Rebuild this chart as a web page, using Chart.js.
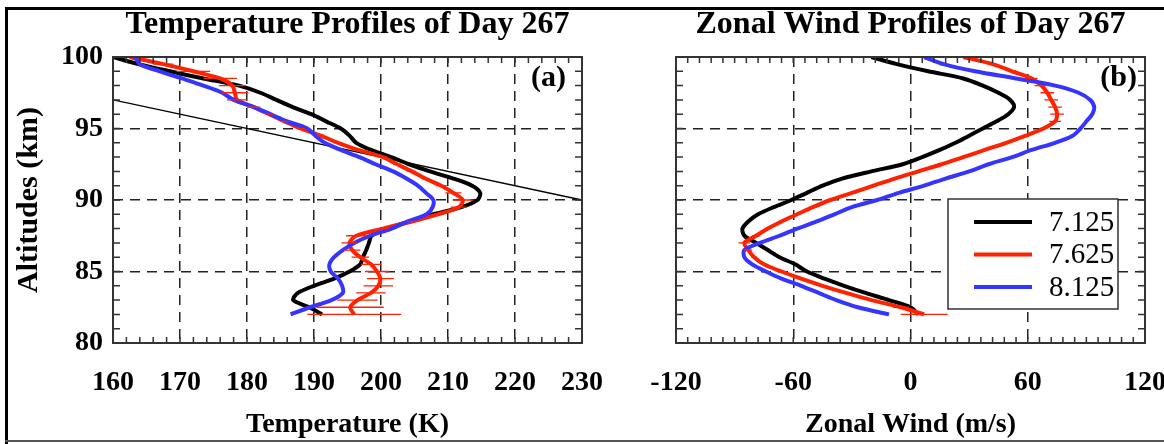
<!DOCTYPE html>
<html>
<head>
<meta charset="utf-8">
<script src="https://cdn.jsdelivr.net/npm/chart.js@4.4.1/dist/chart.umd.min.js"></script>
<style>
  body { margin: 0; background: #fff; }
  #wrap { position: relative; width: 1164px; height: 444px; overflow: hidden; background: #fff; }
  #wrap canvas { position: absolute; top: 0; }
  .edge { position: absolute; background: #000; }
</style>
</head>
<body>
<div id="wrap">
  <canvas id="windChart" width="564" height="444" style="left:600px"></canvas>
  <canvas id="tempChart" width="620" height="444" style="left:0"></canvas>
  <div class="edge" style="left:5px;top:7px;width:1159px;height:3px"></div>
  <div class="edge" style="left:5px;top:7px;width:3px;height:437px"></div>
  <div class="edge" style="left:5px;top:440px;width:1159px;height:2px;background:#555"></div>
</div>
<script>
// altitude grid of the profiles (km)
const altitudes = [82, 82.5, 83, 83.5, 84, 84.5, 85, 85.5, 86, 86.5, 87, 87.5, 88, 88.5, 89, 89.5, 90, 90.5, 91, 91.5,
  92, 92.5, 93, 93.5, 94, 94.5, 95, 95.5, 96, 96.5, 97, 97.5, 98, 98.5, 99, 99.5, 100];

// temperature (K)
const temp7125 = [191.2, 189.3, 186.9, 187.6, 190.0, 193.0, 195.3, 196.9, 197.3, 197.8, 198.2, 198.6, 200.8, 204.3, 207.8, 212.0, 214.4, 214.8, 213.6, 210.8,
  207.3, 204.2, 201.5, 198.5, 196.3, 195.3, 194.0, 191.8, 189.6, 186.8, 184.4, 182.0, 178.8, 173.5, 168.5, 163.8, 160.0];
const temp7625 = [196.0, 195.4, 196.5, 198.5, 199.6, 199.9, 199.4, 198.5, 196.9, 195.7, 195.3, 196.3, 200.3, 204.6, 208.5, 211.6, 212.2, 210.8, 209.0, 206.6,
  204.6, 202.4, 200.3, 196.6, 193.6, 191.0, 188.0, 185.6, 183.3, 181.0, 178.5, 178.2, 177.8, 176.0, 172.0, 167.5, 162.5];
const temp8125 = [186.5, 189.4, 192.6, 194.3, 194.2, 193.6, 192.5, 192.3, 193.0, 194.3, 196.0, 198.4, 201.6, 204.0, 206.8, 207.7, 207.8, 206.7, 205.5, 203.8,
  201.8, 199.2, 196.8, 194.0, 191.6, 190.2, 189.0, 186.0, 183.5, 181.0, 178.0, 176.3, 173.5, 170.3, 167.0, 164.0, 163.3];
const tempErr7625 = [7, 5, 3, 2.2, 2.2, 2, 1.8, 1.5, 1.3, 1.2, 1.2, 1.5, 0.8, 0.8, 0.8, 1.2, 1.5, 1.2, 0.8, 0.6,
  0.6, 0.6, 0.6, 0.6, 0.6, 0.6, 0.6, 0.6, 0.6, 1.0, 1.5, 2.0, 2.0, 2.5, 2.5, 1.5, 0.8];

// zonal wind (m/s)
const wind7125 = [4, 0, -11, -23, -34, -44, -53, -59, -67, -73, -79, -85, -86, -83, -78, -70, -61, -53, -45, -35,
  -20, -4, 6, 15, 23, 30, 37, 44, 50, 53, 51, 45, 37, 27, 9, -7, -20];
const wind7625 = [7, -5, -20, -33, -45, -56, -66, -75, -80, -83, -85, -79, -73, -66, -58, -50, -41, -30, -19, -8,
  4, 16, 27, 38, 49, 59, 68, 74, 75, 74, 72, 70, 67, 62, 52, 42, 27];
const wind8125 = [-11, -27, -38, -47, -56, -66, -74, -81, -85, -85, -77, -67, -58, -48, -39, -30, -17, -6, 7, 18,
  30, 40, 52, 62, 74, 83, 87, 90, 93, 94, 92, 86, 74, 54, 33, 17, 7];
const windErr7625 = [12, 4, 2, 1.5, 1.5, 1.5, 1.5, 1.5, 1.5, 2, 3, 2, 1.5, 1.5, 1.5, 1.5, 1.5, 1.5, 1.5, 1.5,
  1.5, 1.5, 1.5, 1.5, 1.5, 1.5, 2, 3, 3.5, 3.5, 3.5, 3.5, 3.5, 3, 2, 1.5, 1];

// adiabatic lapse-rate reference line
const lapseTemp = [160, 230];
const lapseAlt = [97, 90];

const seriesLabels = ['7.125', '7.625', '8.125'];
const seriesColors = ['#000000', '#ff2200', '#3535ff'];
const tempTicks = [160, 170, 180, 190, 200, 210, 220, 230];
const windTicks = [-120, -60, 0, 60, 120];
const altTicks = [80, 85, 90, 95, 100];

const serif = "'Liberation Serif', 'Times New Roman', serif";

function profile(xs, ys) {
  return xs.map((v, i) => ({ x: v, y: ys[i] }));
}

function profileSets(series, errors) {
  return series.map((vals, i) => ({
    label: seriesLabels[i],
    data: profile(vals, altitudes),
    errors: i === 1 ? errors : null,
    showLine: true,
    borderColor: seriesColors[i],
    borderWidth: 4,
    pointRadius: 0,
    tension: 0.3,
    order: 2 - i
  }));
}

// box outline + inward minor ticks on all four sides
const boxTicks = {
  id: 'boxTicks',
  afterDatasetsDraw(chart, args, opts) {
    const { ctx, chartArea: a, scales: { x, y } } = chart;
    ctx.save();
    ctx.strokeStyle = '#333';
    ctx.lineWidth = 1.5;
    ctx.beginPath();
    for (let v = x.min; v <= x.max + 1e-6; v += opts.xStep) {
      const px = x.getPixelForValue(v);
      ctx.moveTo(px, a.bottom); ctx.lineTo(px, a.bottom - opts.len);
      ctx.moveTo(px, a.top); ctx.lineTo(px, a.top + opts.len);
    }
    for (let v = y.min; v <= y.max + 1e-6; v += opts.yStep) {
      const py = y.getPixelForValue(v);
      ctx.moveTo(a.left, py); ctx.lineTo(a.left + opts.len + 1, py);
      ctx.moveTo(a.right, py); ctx.lineTo(a.right - opts.len - 1, py);
    }
    ctx.stroke();
    ctx.lineWidth = 2;
    ctx.strokeRect(a.left, a.top, a.right - a.left, a.bottom - a.top);
    ctx.restore();
  }
};

// horizontal error bars for datasets carrying an errors array
const errorBars = {
  id: 'errorBars',
  afterDatasetsDraw(chart) {
    const { ctx, chartArea: a, scales: { x, y } } = chart;
    ctx.save();
    ctx.beginPath();
    ctx.rect(a.left, a.top, a.right - a.left, a.bottom - a.top);
    ctx.clip();
    chart.data.datasets.forEach(ds => {
      if (!ds.errors) return;
      ctx.strokeStyle = ds.borderColor;
      ctx.lineWidth = 1.3;
      ctx.beginPath();
      ds.data.forEach((p, i) => {
        const e = ds.errors[i];
        const py = y.getPixelForValue(p.y);
        ctx.moveTo(x.getPixelForValue(p.x - e), py);
        ctx.lineTo(x.getPixelForValue(p.x + e), py);
      });
      ctx.stroke();
    });
    ctx.restore();
  }
};

const panelLabel = {
  id: 'panelLabel',
  afterDraw(chart, args, opts) {
    const { ctx, chartArea: a } = chart;
    ctx.save();
    ctx.font = 'bold 30px ' + serif;
    ctx.fillStyle = '#000';
    ctx.textAlign = 'right';
    ctx.textBaseline = 'middle';
    ctx.fillText(opts.text, a.right - opts.right, a.top + 21);
    ctx.restore();
  }
};

const boxLegend = {
  id: 'boxLegend',
  afterDraw(chart, args, opts) {
    if (!opts.show) return;
    const { ctx, chartArea: a } = chart;
    const right = a.right - 27, bottom = a.bottom - 34;
    const left = right - 170, top = bottom - 110;
    ctx.save();
    ctx.fillStyle = '#fff';
    ctx.fillRect(left, top, right - left, bottom - top);
    ctx.strokeStyle = '#333';
    ctx.lineWidth = 1.5;
    ctx.strokeRect(left, top, right - left, bottom - top);
    ctx.font = '29px ' + serif;
    ctx.textBaseline = 'middle';
    ctx.fillStyle = '#000';
    seriesLabels.forEach((lab, i) => {
      const ds = chart.data.datasets.find(d => d.label === lab);
      const yy = top + 23 + i * 32.5;
      ctx.strokeStyle = ds.borderColor;
      ctx.lineWidth = 4;
      ctx.beginPath();
      ctx.moveTo(left + 26, yy);
      ctx.lineTo(left + 84, yy);
      ctx.stroke();
      ctx.fillText(lab, left + 101, yy + 1);
    });
    ctx.restore();
  }
};

function xAxis(min, max, ticks, title) {
  return {
    type: 'linear', position: 'bottom', min: min, max: max,
    afterBuildTicks: s => { s.ticks = ticks.map(v => ({ value: v })); },
    afterFit: s => { s.height = 101; s.paddingLeft = 0; s.paddingRight = 0; },
    grid: { color: '#222', lineWidth: 1.5, drawTicks: false },
    border: { display: false, dash: [10, 7] },
    ticks: { color: '#000', font: { family: serif, size: 28, weight: 'bold' }, padding: 23, maxRotation: 0, autoSkip: false },
    title: { display: true, text: title, color: '#000', font: { family: serif, size: 28, weight: 'bold' }, padding: { top: 0, bottom: 2 } }
  };
}

function yAxis(width, showLabels) {
  return {
    type: 'linear', position: 'left', min: 80, max: 100,
    afterBuildTicks: s => { s.ticks = altTicks.map(v => ({ value: v })); },
    afterFit: s => { s.width = width; s.paddingTop = 0; s.paddingBottom = 0; },
    grid: { color: '#222', lineWidth: 1.5, drawTicks: false },
    border: { display: false, dash: [10, 7] },
    ticks: { display: showLabels, color: '#000', font: { family: serif, size: 28, weight: 'bold' }, padding: 10 },
    title: { display: showLabels, text: 'Altitudes (km)', color: '#000', font: { family: serif, size: 30, weight: 'bold' }, padding: { top: 11, bottom: 0 } }
  };
}

function chartTitle(text) {
  return {
    display: true, text: text, color: '#000', fullSize: false,
    font: { family: serif, size: 32, weight: 'bold' },
    padding: { top: 6, bottom: 12.6 }
  };
}

const tempSets = profileSets([temp7125, temp7625, temp8125], tempErr7625);
tempSets.push({
  label: 'lapse',
  data: profile(lapseTemp, lapseAlt),
  showLine: true, borderColor: '#000', borderWidth: 1.3, pointRadius: 0, order: 3
});

new Chart(document.getElementById('tempChart').getContext('2d'), {
  type: 'scatter',
  data: { datasets: tempSets },
  options: {
    responsive: false, animation: false, devicePixelRatio: 1,
    layout: { padding: { left: 0, right: 38, top: 0, bottom: 0 } },
    scales: { x: xAxis(160, 230, tempTicks, 'Temperature (K)'), y: yAxis(113, true) },
    plugins: {
      legend: { display: false }, tooltip: { enabled: false },
      title: chartTitle('Temperature Profiles of Day 267'),
      boxTicks: { xStep: 2, yStep: 1, len: 6 },
      panelLabel: { text: '(a)', right: 16 },
      boxLegend: { show: false }
    }
  },
  plugins: [errorBars, boxTicks, panelLabel, boxLegend]
});

new Chart(document.getElementById('windChart').getContext('2d'), {
  type: 'scatter',
  data: { datasets: profileSets([wind7125, wind7625, wind8125], windErr7625) },
  options: {
    responsive: false, animation: false, devicePixelRatio: 1,
    layout: { padding: { left: 0, right: 19, top: 0, bottom: 0 } },
    scales: { x: xAxis(-120, 120, windTicks, 'Zonal Wind (m/s)'), y: yAxis(76, false) },
    plugins: {
      legend: { display: false }, tooltip: { enabled: false },
      title: chartTitle('Zonal Wind Profiles of Day 267'),
      boxTicks: { xStep: 6, yStep: 1, len: 6 },
      panelLabel: { text: '(b)', right: 8 },
      boxLegend: { show: true }
    }
  },
  plugins: [errorBars, boxTicks, panelLabel, boxLegend]
});
</script>
</body>
</html>
